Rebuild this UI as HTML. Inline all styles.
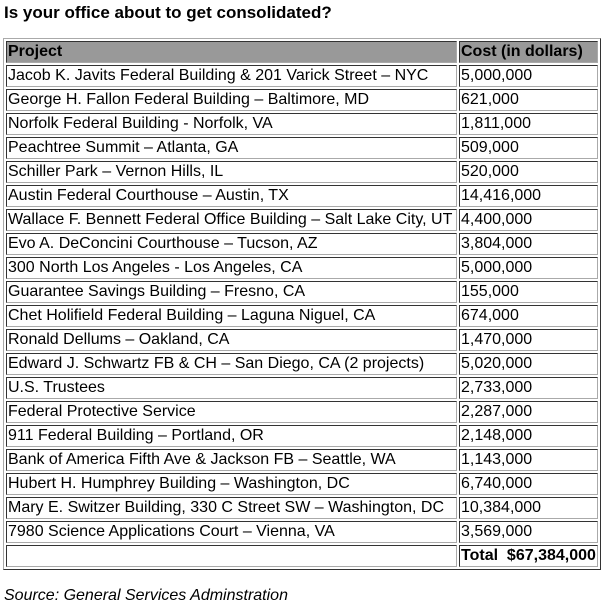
<!DOCTYPE html>
<html><head><style>
body{margin:0;background:#fff;font-family:"Liberation Sans",Arial,sans-serif;color:#000;}
h1{position:absolute;left:4px;top:3px;margin:0;font-size:17px;font-weight:bold;}
table{position:absolute;left:3px;top:38px;width:598px;border:1px solid;border-color:#aaa #333 #333 #aaa;border-spacing:2px;font-size:16px;}
td{border:1px solid;border-color:#333 #aaa #aaa #333;padding:0 1px;height:20px;line-height:20px;white-space:nowrap;}
tr.h td{background:#999;font-weight:bold;}
td.c{width:135px;}
.src{position:absolute;left:4px;top:587px;font-size:16px;font-style:italic;}
</style></head><body>
<h1>Is your office about to get consolidated?</h1>
<table>
<tr class="h"><td>Project</td><td class="c">Cost (in dollars)</td></tr>
<tr><td>Jacob K. Javits Federal Building &amp; 201 Varick Street – NYC</td><td>5,000,000</td></tr>
<tr><td>George H. Fallon Federal Building – Baltimore, MD</td><td>621,000</td></tr>
<tr><td>Norfolk Federal Building - Norfolk, VA</td><td>1,811,000</td></tr>
<tr><td>Peachtree Summit – Atlanta, GA</td><td>509,000</td></tr>
<tr><td>Schiller Park – Vernon Hills, IL</td><td>520,000</td></tr>
<tr><td>Austin Federal Courthouse – Austin, TX</td><td>14,416,000</td></tr>
<tr><td>Wallace F. Bennett Federal Office Building – Salt Lake City, UT</td><td>4,400,000</td></tr>
<tr><td>Evo A. DeConcini Courthouse – Tucson, AZ</td><td>3,804,000</td></tr>
<tr><td>300 North Los Angeles - Los Angeles, CA</td><td>5,000,000</td></tr>
<tr><td>Guarantee Savings Building – Fresno, CA</td><td>155,000</td></tr>
<tr><td>Chet Holifield Federal Building – Laguna Niguel, CA</td><td>674,000</td></tr>
<tr><td>Ronald Dellums – Oakland, CA</td><td>1,470,000</td></tr>
<tr><td>Edward J. Schwartz FB &amp; CH – San Diego, CA (2 projects)</td><td>5,020,000</td></tr>
<tr><td>U.S. Trustees</td><td>2,733,000</td></tr>
<tr><td>Federal Protective Service</td><td>2,287,000</td></tr>
<tr><td>911 Federal Building – Portland, OR</td><td>2,148,000</td></tr>
<tr><td>Bank of America Fifth Ave &amp; Jackson FB – Seattle, WA</td><td>1,143,000</td></tr>
<tr><td>Hubert H. Humphrey Building – Washington, DC</td><td>6,740,000</td></tr>
<tr><td>Mary E. Switzer Building, 330 C Street SW – Washington, DC</td><td>10,384,000</td></tr>
<tr><td>7980 Science Applications Court – Vienna, VA</td><td>3,569,000</td></tr>
<tr><td>&nbsp;</td><td><b>Total&nbsp; $67,384,000</b></td></tr>
</table>
<div class="src">Source: General Services Adminstration</div>
</body></html>
